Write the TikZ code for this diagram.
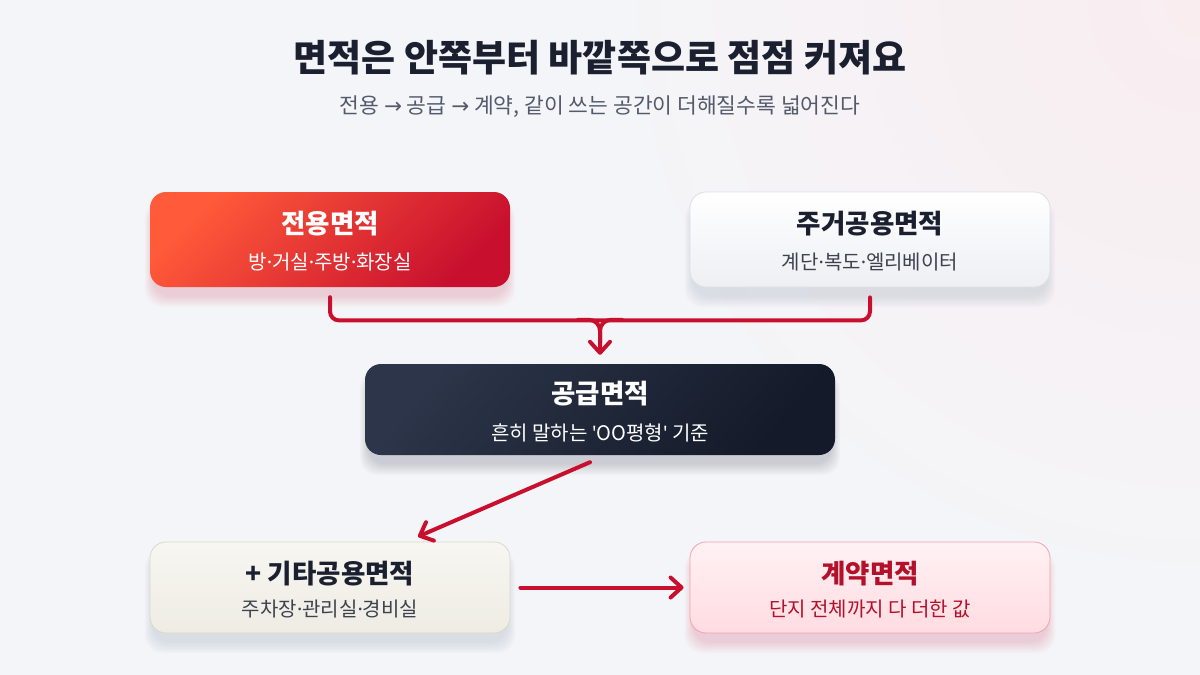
\documentclass[tikz,border=0pt]{standalone}
\usepackage{fontspec}
\setmainfont{Noto Sans CJK KR}
\newfontfamily\latinfont{Noto Sans}
\newfontfamily\arrowfont{DejaVu Sans}
\newcommand\md{{\latinfont ·}}
\newcommand\sq{{\latinfont\symbol{"27}}}
\newcommand\ar{{\arrowfont →}}
\usetikzlibrary{arrows.meta,calc}
\definecolor{bgc}{HTML}{F4F5F8}
\definecolor{glow}{HTML}{F9EDF0}
\definecolor{titlec}{HTML}{1B2030}
\definecolor{subc}{HTML}{525A6B}
\definecolor{redA}{HTML}{FF5A3A}
\definecolor{redB}{HTML}{C8102E}
\definecolor{navyA}{HTML}{2C3549}
\definecolor{navyB}{HTML}{141A29}
\definecolor{greyA}{HTML}{FFFFFF}
\definecolor{greyB}{HTML}{EDEFF3}
\definecolor{greyL}{HTML}{DCDFE6}
\definecolor{beigeA}{HTML}{F7F6F1}
\definecolor{beigeB}{HTML}{EEECE3}
\definecolor{beigeL}{HTML}{DAD8CC}
\definecolor{pinkA}{HTML}{FFF1F3}
\definecolor{pinkB}{HTML}{FFDCE2}
\definecolor{pinkL}{HTML}{F2A2AF}
\definecolor{darkred}{HTML}{B3102A}
\definecolor{arrowc}{HTML}{C8102E}
\definecolor{shgrey}{HTML}{7A86A0}
\definecolor{shred}{HTML}{E0304F}
\pgfdeclarelayer{bglayer}
\pgfdeclarelayer{shadowlayer}
\pgfsetlayers{bglayer,shadowlayer,main}
\newcommand\softshadow[2]{%
  \begin{pgfonlayer}{shadowlayer}
  \foreach \i in {1,...,10}{%
    \fill[#2, opacity=0.02, rounded corners=18pt]
      ($(#1.south west)+(-\i*0.9+4,\i*1.2+8)$) rectangle ($(#1.north east)+(\i*0.9-4,-\i*0.6+14)$);
  }
  \end{pgfonlayer}}
\tikzset{
  box/.style={rounded corners=16pt, minimum width=360pt, minimum height=95pt, inner sep=0pt},
  ttl/.style={font=\fontsize{26.5pt}{30pt}\selectfont\bfseries, inner sep=0pt},
  sub/.style={font=\fontsize{20pt}{24pt}\selectfont, inner sep=0pt},
  conn/.style={draw=arrowc, line width=4pt, line cap=round, line join=round},
  tip/.style={-{Straight Barb[length=11pt,width=20pt,line cap=round,line join=round]}}
}
\begin{document}
\begin{tikzpicture}[x=1pt,y=-1pt]
\begin{pgfonlayer}{bglayer}
\fill[bgc] (0,0) rectangle (1200,675);
\begin{scope}
\clip (0,0) rectangle (1200,675);
\shade[inner color=glow, outer color=bgc] (1200,0) circle (600);
\end{scope}
\end{pgfonlayer}
\useasboundingbox (0,0) rectangle (1200,675);

% titles
\node[font=\fontsize{37pt}{42pt}\selectfont\bfseries, text=titlec, inner sep=0pt] (title) at (600,58) {면적은 안쪽부터 바깥쪽으로 점점 커져요};
\node[font=\fontsize{21.5pt}{26pt}\selectfont, text=subc, inner sep=0pt] (subtitle) at (600,107) {전용 \ar{} 공급 \ar{} 계약, 같이 쓰는 공간이 더해질수록 넓어진다};

% boxes
\node[box, left color=redA, right color=redB, shading angle=45] (jy) at (330,239.5) {};
\node[box, top color=greyA, bottom color=greyB, draw=greyL, line width=0.8pt] (jg) at (870,239.5) {};
\node[box, minimum width=470pt, minimum height=91pt, left color=navyA, right color=navyB, shading angle=50] (gy) at (600,409.5) {};
\node[box, minimum height=91pt, top color=beigeA, bottom color=beigeB, draw=beigeL, line width=0.8pt] (gt) at (330,587.5) {};
\node[box, minimum height=91pt, top color=pinkA, bottom color=pinkB, draw=pinkL, line width=0.8pt] (gk) at (870,587.5) {};

\softshadow{jy}{shred}
\softshadow{jg}{shgrey}
\softshadow{gy}{navyA}
\softshadow{gt}{shgrey}
\softshadow{gk}{shred}

% texts
\node[ttl, text=white] (jyT) at ($(jy.center)+(0,-15.5)$) {전용면적};
\node[sub, text=white] (jyS) at ($(jy.center)+(0,22.5)$) {방\md 거실\md 주방\md 화장실};
\node[ttl, text=titlec] (jgT) at ($(jg.center)+(0,-15.5)$) {주거공용면적};
\node[sub, text=titlec!85] (jgS) at ($(jg.center)+(0,22.5)$) {계단\md 복도\md 엘리베이터};
\node[ttl, text=white] (gyT) at ($(gy.center)+(0,-16)$) {공급면적};
\node[sub, text=white] (gyS) at ($(gy.center)+(0,23.5)$) {흔히 말하는 \sq OO평형\sq{} 기준};
\node[ttl, text=titlec] (gtT) at ($(gt.center)+(0,-14)$) {+ 기타공용면적};
\node[sub, text=titlec!85] (gtS) at ($(gt.center)+(0,22)$) {주차장\md 관리실\md 경비실};
\node[ttl, text=darkred] (gkT) at ($(gk.center)+(0,-14)$) {계약면적};
\node[sub, text=darkred] (gkS) at ($(gk.center)+(0,22)$) {단지 전체까지 다 더한 값};

% bracket connector
\coordinate (bl) at ($(jy.south)+(0,10)$);
\coordinate (br) at ($(jg.south)+(0,10)$);
\coordinate (bm) at ($(gy.north)+(0,-9)$);
\draw[conn, rounded corners=9pt] (bl) |- ($(br)+(0,23)$) -- (br);
\draw[conn, rounded corners=11pt] ($(bm)+(-22,-35)$) -| ($(bm)+(0,-12)$);
\draw[conn, rounded corners=11pt, tip] ($(bm)+(22,-35)$) -| (bm);

% diagonal and horizontal arrows
\draw[conn, tip] ($(gy.south)+(-10,7)$) -- ($(gt.north)+(88,-5)$);
\draw[conn, tip] ($(gt.east)+(10,0)$) -- ($(gk.west)+(-6,0)$);
\end{tikzpicture}
\end{document}
